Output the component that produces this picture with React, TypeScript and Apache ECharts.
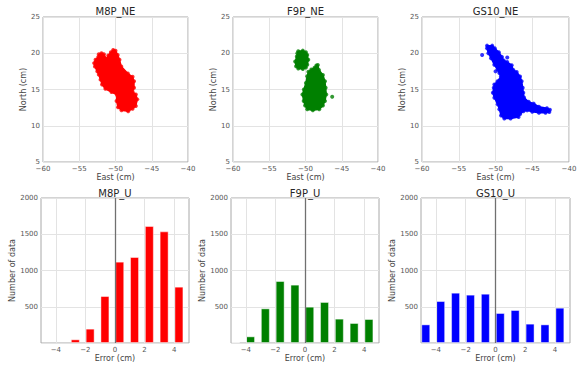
import React, { useEffect, useRef } from "react";
import * as echarts from "echarts";

// ---- Data ----
const plotTitles = ["M8P_NE", "F9P_NE", "GS10_NE", "M8P_U", "F9P_U", "GS10_U"];
const receiverColors = ["#ff0000", "#008000", "#0000ff"];

// Outlines of the dense point clouds (East cm, North cm)
const m8pBlob = [
  [-50.32, 20.45], [-50.0, 20.35], [-49.7, 19.77], [-49.45, 19.09], [-49.2, 18.18],
  [-48.3, 17.2], [-47.65, 16.75], [-47.45, 16.14], [-47.45, 15.23], [-47.66, 14.77],
  [-47.2, 14.32], [-47.0, 13.64], [-47.2, 12.73], [-47.65, 12.35], [-48.25, 12.0],
  [-49.17, 12.15], [-49.65, 12.55], [-49.85, 13.41], [-49.8, 14.25], [-50.55, 14.65],
  [-51.4, 15.1], [-51.85, 15.7], [-52.06, 16.36], [-52.3, 17.05], [-52.52, 17.5],
  [-52.84, 18.18], [-52.95, 18.64], [-52.75, 19.09], [-52.38, 19.5], [-52.3, 19.85],
  [-51.93, 20.0], [-51.6, 19.85], [-51.24, 19.2], [-51.0, 19.7], [-50.64, 20.13],
];
const f9pBlobSmall = [
  [-51.0, 20.28], [-50.37, 20.36], [-49.95, 20.15], [-49.76, 19.77], [-49.62, 19.09],
  [-49.76, 18.41], [-49.95, 18.02], [-50.37, 17.82], [-51.0, 17.9], [-51.3, 18.22],
  [-51.42, 18.86], [-51.2, 19.55], [-51.12, 20.0],
];
const f9pBlobLarge = [
  [-48.5, 18.3], [-48.3, 18.38], [-48.15, 17.7], [-47.6, 17.0], [-47.32, 16.14],
  [-47.22, 15.23], [-47.14, 14.32], [-47.32, 13.41], [-47.6, 12.78], [-48.1, 12.28],
  [-48.99, 12.15], [-49.76, 12.28], [-50.05, 12.78], [-50.25, 13.41], [-50.42, 14.32],
  [-50.22, 15.0], [-49.94, 15.91], [-49.76, 16.82], [-49.6, 17.45], [-49.2, 17.75],
  [-48.76, 18.0],
];
const f9pDots = [[-46.32, 14.0]];
const gs10Blob = [
  [-51.15, 21.05], [-50.45, 21.05], [-50.1, 20.7], [-49.55, 20.15], [-49.12, 19.5],
  [-48.88, 19.0], [-48.41, 18.78], [-47.8, 18.35], [-47.58, 17.7], [-47.12, 17.42],
  [-46.66, 16.8], [-46.44, 16.14], [-46.3, 15.23], [-46.22, 14.55], [-46.12, 13.9],
  [-45.5, 13.3], [-44.8, 13.05], [-44.1, 12.62], [-43.0, 12.42], [-42.6, 12.2],
  [-42.68, 11.9], [-43.2, 11.78], [-44.09, 11.8], [-45.0, 11.92], [-45.7, 12.12],
  [-46.2, 12.0], [-46.64, 11.62], [-46.86, 11.22], [-47.95, 11.0], [-48.8, 11.0],
  [-49.24, 11.4], [-49.47, 12.27], [-49.7, 12.95], [-50.15, 13.86], [-50.36, 14.55],
  [-50.24, 15.23], [-50.15, 15.68], [-49.72, 16.14], [-49.26, 16.82], [-49.48, 17.27],
  [-49.7, 17.73], [-50.16, 18.41], [-50.6, 19.32], [-50.97, 20.0], [-51.15, 20.68],
];
const gs10Dots = [[-51.82, 19.77], [-50.0, 17.5], [-48.4, 19.4]];

// Histogram of vertical error
const binCenters = [-4.68, -3.68, -2.68, -1.68, -0.68, 0.32, 1.32, 2.32, 3.32, 4.32];
const m8pU = [0, 0, 51, 198, 648, 1122, 1186, 1614, 1540, 777];
const f9pU = [14, 92, 478, 855, 805, 501, 566, 336, 276, 331];
const gs10U = [257, 579, 694, 667, 680, 414, 455, 267, 257, 487];

const FONT = "DejaVu Sans";
const minus = (v: number) => String(v).replace("-", "\u2212");

export default function App() {
  const ref = useRef<HTMLDivElement>(null);
  useEffect(() => {
    if (!ref.current) return;
    const chart = echarts.init(ref.current, undefined, { renderer: "svg" });

    const gridBoxes = [
      { left: 43, top: 17, width: 145, height: 145 },
      { left: 233, top: 17, width: 145, height: 145 },
      { left: 422, top: 17, width: 147, height: 145 },
      { left: 41, top: 198, width: 148, height: 145 },
      { left: 231, top: 198, width: 148, height: 145 },
      { left: 421, top: 198, width: 149, height: 145 },
    ];
    const grid = gridBoxes.map((g) => ({
      ...g,
      show: true,
      borderColor: "#a8a8a8",
      borderWidth: 1,
      backgroundColor: "#ffffff",
      containLabel: false,
    }));

    const tickLabel = { color: "#555", fontSize: 7, fontFamily: FONT };
    const nameStyle = { color: "#444", fontSize: 8, fontFamily: FONT };
    const splitLine = { show: true, lineStyle: { color: "#e3e3e3", width: 1 } };

    const xAxis: any[] = [];
    const yAxis: any[] = [];
    for (let i = 0; i < 3; i++) {
      xAxis.push({
        gridIndex: i, type: "value", min: -60, max: -40, interval: 5,
        name: "East (cm)", nameLocation: "middle", nameGap: 11, nameTextStyle: nameStyle,
        axisLine: { show: false }, axisTick: { show: false },
        axisLabel: { ...tickLabel, margin: 3, formatter: minus },
        splitLine,
      });
      yAxis.push({
        gridIndex: i, type: "value", min: 5, max: 25, interval: 5,
        name: "North (cm)", nameLocation: "middle", nameGap: 11, nameTextStyle: nameStyle,
        axisLine: { show: false }, axisTick: { show: false },
        axisLabel: { ...tickLabel, margin: 3, formatter: minus },
        splitLine,
      });
    }
    for (let i = 3; i < 6; i++) {
      xAxis.push({
        gridIndex: i, type: "value", min: -5, max: 5, interval: 1,
        name: "Error (cm)", nameLocation: "middle", nameGap: 11, nameTextStyle: nameStyle,
        axisLine: { show: false }, axisTick: { show: false },
        axisLabel: { ...tickLabel, margin: 3, formatter: (v: number) => (Math.round(v) % 2 === 0 ? minus(v) : "") },
        splitLine: { show: false },
      });
      yAxis.push({
        gridIndex: i, type: "value", min: 0, max: 2000, interval: 500,
        name: "Number of data", nameLocation: "middle", nameGap: 21, nameTextStyle: nameStyle,
        axisLine: { show: false }, axisTick: { show: false },
        axisLabel: { ...tickLabel, margin: 3, formatter: (v: number) => (v === 0 ? "" : String(v)) },
        splitLine,
      });
    }

    const series: any[] = [];
    const addBlob = (idx: number, pts: number[][], color: string) => {
      series.push({
        type: "custom",
        xAxisIndex: idx, yAxisIndex: idx,
        data: pts,
        renderItem: (params: any, api: any) => {
          if (params.dataIndex !== 0) return null;
          const points = pts.map((p) => api.coord(p));
          return {
            type: "polygon",
            shape: { points },
            style: { fill: color, stroke: color, lineWidth: 1.5, lineJoin: "round" },
          };
        },
        silent: true,
        z: 2,
      });
      series.push({
        type: "scatter", xAxisIndex: idx, yAxisIndex: idx,
        data: pts, symbolSize: 4, itemStyle: { color }, silent: true, z: 3,
      });
    };
    addBlob(0, m8pBlob, receiverColors[0]);
    addBlob(1, f9pBlobSmall, receiverColors[1]);
    addBlob(1, f9pBlobLarge, receiverColors[1]);
    series.push({ type: "scatter", xAxisIndex: 1, yAxisIndex: 1, data: f9pDots, symbolSize: 4, itemStyle: { color: receiverColors[1] }, silent: true });
    addBlob(2, gs10Blob, receiverColors[2]);
    series.push({ type: "scatter", xAxisIndex: 2, yAxisIndex: 2, data: gs10Dots, symbolSize: 4, itemStyle: { color: receiverColors[2] }, silent: true });

    const hists = [m8pU, f9pU, gs10U];
    hists.forEach((vals, k) => {
      const idx = k + 3;
      series.push({
        type: "bar",
        xAxisIndex: idx, yAxisIndex: idx,
        data: binCenters
          .map((c, j) => [c, vals[j]])
          .filter((d) => d[1] > 0),
        barWidth: 9,
        itemStyle: { color: receiverColors[k], borderColor: "rgba(255,255,255,0.45)", borderWidth: 1 },
        silent: true,
        z: 3,
        markLine: {
          silent: true, symbol: "none", label: { show: false }, animation: false,
          data: [-4, -2, 2, 4].map((x) => ({ xAxis: x, lineStyle: { color: "#e3e3e3", width: 1, type: "solid" } }))
            .concat([{ xAxis: 0, lineStyle: { color: "#707070", width: 1.3, type: "solid" } }]),
        },
      });
    });

    const graphic = gridBoxes.map((g, i) => ({
      type: "text",
      x: g.left + g.width / 2,
      y: i < 3 ? 11 : 193,
      style: {
        text: plotTitles[i], fill: "#262626", fontSize: 10, fontFamily: FONT,
        align: "center", verticalAlign: "middle",
      },
      z: 10,
    }));

    chart.setOption({
      animation: false,
      backgroundColor: "#ffffff",
      textStyle: { fontFamily: FONT },
      grid, xAxis, yAxis, series, graphic,
    });
    return () => chart.dispose();
  }, []);
  return <div ref={ref} style={{ position: "fixed", left: 0, top: 0, width: 581, height: 368 }} />;
}
